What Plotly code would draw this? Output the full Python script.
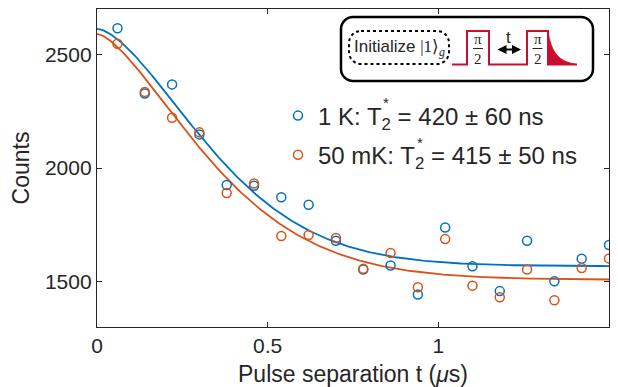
import numpy as np
import plotly.graph_objects as go

# ---------------- data ----------------
t_us = [0.06, 0.14, 0.22, 0.30, 0.38, 0.46, 0.54, 0.62, 0.70, 0.78,
        0.86, 0.94, 1.02, 1.10, 1.18, 1.26, 1.34, 1.42, 1.50]
counts_1K = [2615, 2328, 2368, 2148, 1925, 1922, 1871, 1838, 1680, 1553,
             1571, 1443, 1738, 1567, 1458, 1680, 1501, 1601, 1661]
counts_50mK = [2547, 2335, 2221, 2157, 1890, 1932, 1701, 1705, 1692, 1556,
               1626, 1475, 1687, 1482, 1431, 1553, 1418, 1560, 1602]

# fit parameters (amplitude, offset, T2* in us, stretch exponent)
fit_1K = dict(A=1045, C=1568, T2=0.416, p=1.6)
fit_50mK = dict(A=1083, C=1508, T2=0.412, p=1.5)

x_ticks = [0, 0.5, 1, 1.5]
x_ticklabels = ["0", "0.5", "1", "1.5"]
y_ticks = [1500, 2000, 2500]
y_ticklabels = ["1500", "2000", "2500"]

label_1K = "1 K: T<sub>2</sub> = 420 ± 60 ns"
label_50mK = "50 mK: T<sub>2</sub> = 415 ± 50 ns"

BLUE = "#0072BD"
ORANGE = "#D95319"
RED = "#C8102E"
DARK = "#262626"
FONT = "Liberation Sans"
SERIF = "Liberation Serif"

OFF = 8  # page body margin of the html page
W, H = 610, 379
ML, MR, MT, MB = 89, 9, 1, 60
PW, PH = W - ML - MR, H - MT - MB


def fit_curve(t, A, C, T2, p):
    return C + A * np.exp(-(t / T2) ** p)


t_fit = np.linspace(0, 1.5, 301)

fig = go.Figure()
fig.add_trace(go.Scatter(x=t_fit, y=fit_curve(t_fit, **fit_1K), mode="lines",
                         line=dict(color=BLUE, width=1.8), showlegend=False,
                         hoverinfo="skip"))
fig.add_trace(go.Scatter(x=t_fit, y=fit_curve(t_fit, **fit_50mK), mode="lines",
                         line=dict(color=ORANGE, width=1.8), showlegend=False,
                         hoverinfo="skip"))
fig.add_trace(go.Scatter(x=t_us, y=counts_1K, mode="markers", name=label_1K,
                         legendgroup="a", cliponaxis=False,
                         marker=dict(symbol="circle-open", size=9, color=BLUE,
                                     line=dict(width=1.5, color=BLUE))))
fig.add_trace(go.Scatter(x=t_us, y=counts_50mK, mode="markers", name=label_50mK,
                         legendgroup="b", cliponaxis=False,
                         marker=dict(symbol="circle-open", size=9, color=ORANGE,
                                     line=dict(width=1.5, color=ORANGE))))


# ---------------- helpers for the inset (page pixel -> paper) ----------------
def px(x):
    return (x - OFF - ML) / PW


def py(y):
    return (MT + PH - (y - OFF)) / PH


def P(x, y):
    return f"{px(x):.5f},{py(y):.5f}"


def rounded_rect(x0, y0, x1, y1, r):
    k = 0.5523 * r
    return (f"M{P(x0 + r, y0)} L{P(x1 - r, y0)} "
            f"C{P(x1 - r + k, y0)} {P(x1, y0 + r - k)} {P(x1, y0 + r)} "
            f"L{P(x1, y1 - r)} "
            f"C{P(x1, y1 - r + k)} {P(x1 - r + k, y1)} {P(x1 - r, y1)} "
            f"L{P(x0 + r, y1)} "
            f"C{P(x0 + r - k, y1)} {P(x0, y1 - r + k)} {P(x0, y1 - r)} "
            f"L{P(x0, y0 + r)} "
            f"C{P(x0, y0 + r - k)} {P(x0 + r - k, y0)} {P(x0 + r, y0)} Z")


shapes = []
# outer box
shapes.append(dict(type="path", xref="paper", yref="paper",
                   path=rounded_rect(341, 17, 593, 81, 12),
                   line=dict(color="black", width=2.5), fillcolor="white"))
# dotted init box
shapes.append(dict(type="path", xref="paper", yref="paper",
                   path=rounded_rect(349, 31, 449, 64, 12),
                   line=dict(color="black", width=2, dash="dot")))
# decay fill
shapes.append(dict(type="path", xref="paper", yref="paper",
                   path=f"M{P(548, 31)} C{P(551, 53)} {P(559, 62)} {P(577, 64.5)} L{P(548, 64.5)} Z",
                   line=dict(color=RED, width=1), fillcolor=RED))
# pulse sequence line
shapes.append(dict(type="path", xref="paper", yref="paper",
                   path=(f"M{P(452, 64.5)} L{P(467, 64.5)} L{P(467, 31)} L{P(489, 31)} "
                         f"L{P(489, 64.5)} L{P(527, 64.5)} L{P(527, 31)} L{P(548, 31)} "
                         f"L{P(548, 64.5)} L{P(577, 64.5)}"),
                   line=dict(color=RED, width=2)))
# fraction bars
for cx in (478, 537.5):
    shapes.append(dict(type="line", xref="paper", yref="paper",
                       x0=px(cx - 5), x1=px(cx + 5), y0=py(48.5), y1=py(48.5),
                       line=dict(color=DARK, width=1)))

annotations = []
annotations.append(dict(xref="paper", yref="paper", x=px(399), y=py(47.5),
                        xanchor="center", yanchor="middle", showarrow=False,
                        text=("Initialize <span style='font-family:" + SERIF + "'>|1⟩"
                              "<sub><i>g</i></sub></span>"),
                        font=dict(family=FONT, size=17, color=DARK)))
for cx in (478, 537.5):
    annotations.append(dict(xref="paper", yref="paper", x=px(cx), y=py(39),
                            xanchor="center", yanchor="middle", showarrow=False,
                            text="π", font=dict(family=SERIF, size=15, color=DARK)))
    annotations.append(dict(xref="paper", yref="paper", x=px(cx), y=py(58.5),
                            xanchor="center", yanchor="middle", showarrow=False,
                            text="2", font=dict(family=SERIF, size=15, color=DARK)))
annotations.append(dict(xref="paper", yref="paper", x=px(508.5), y=py(38),
                        xanchor="center", yanchor="middle", showarrow=False,
                        text="t", font=dict(family=FONT, size=17, color=DARK)))
annotations.append(dict(xref="paper", yref="paper", x=px(521), y=py(49.5),
                        ax=-25, ay=0, text="", showarrow=True,
                        arrowhead=2, arrowside="end+start", arrowsize=1,
                        arrowwidth=1.8, arrowcolor="black", standoff=0,
                        startstandoff=0))
# asterisks of T2*
annotations.append(dict(xref="paper", yref="paper", x=px(386), y=py(102),
                        xanchor="center", yanchor="middle", showarrow=False,
                        text="*", font=dict(family=FONT, size=15, color=DARK)))
annotations.append(dict(xref="paper", yref="paper", x=px(419.5), y=py(142),
                        xanchor="center", yanchor="middle", showarrow=False,
                        text="*", font=dict(family=FONT, size=15, color=DARK)))

axis_common = dict(showline=True, linecolor=DARK, linewidth=1.3, mirror="ticks",
                   ticks="inside", ticklen=5, tickwidth=1.3, tickcolor=DARK,
                   showgrid=False, zeroline=False, automargin=False,
                   tickfont=dict(family=FONT, size=21, color=DARK))

fig.update_layout(
    width=W, height=H,
    margin=dict(l=ML, r=MR, t=MT, b=MB),
    paper_bgcolor="white", plot_bgcolor="white",
    font=dict(family=FONT, color=DARK),
    xaxis=dict(range=[0, 1.5], tickvals=x_ticks, ticktext=x_ticklabels,
               title=dict(text="Pulse separation t (<i>μ</i>s)",
                          font=dict(family=FONT, size=23, color=DARK)),
               **axis_common),
    yaxis=dict(range=[1300, 2700], tickvals=y_ticks, ticktext=y_ticklabels,
               title=dict(text="Counts", font=dict(family=FONT, size=23, color=DARK)),
               **axis_common),
    legend=dict(x=px(278), y=py(93.5), xanchor="left", yanchor="top",
                bgcolor="rgba(0,0,0,0)", tracegroupgap=5,
                font=dict(family=FONT, size=24, color=DARK)),
    shapes=shapes,
    annotations=annotations,
)

fig.write_html("out.html")
